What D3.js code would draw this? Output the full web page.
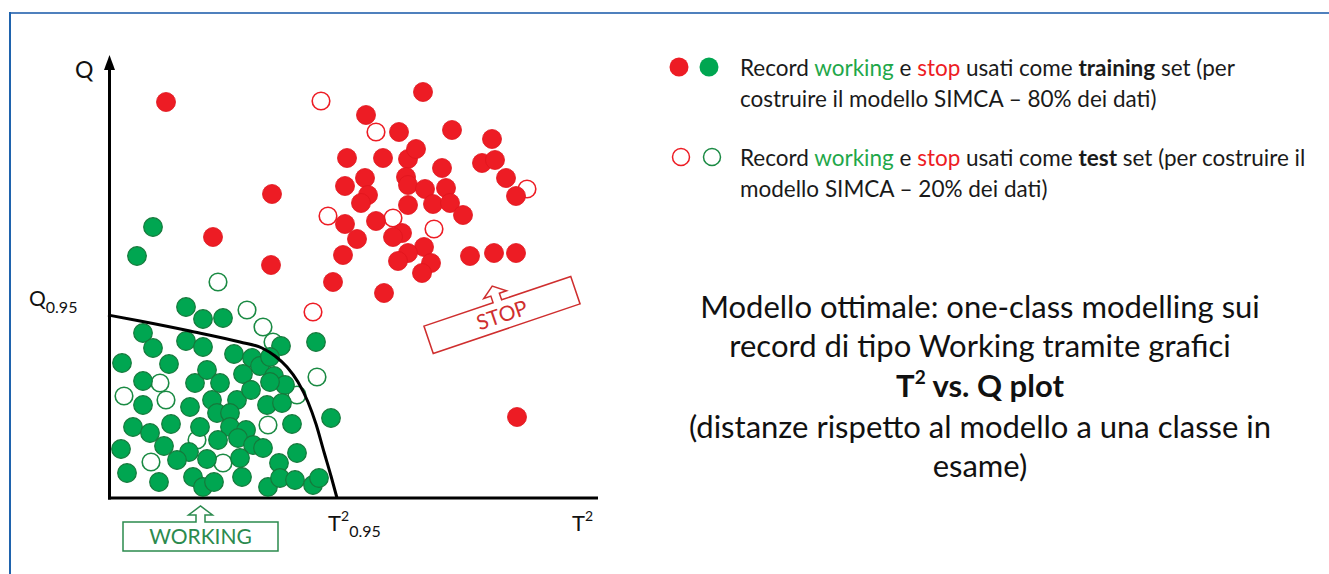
<!DOCTYPE html>
<html><head><meta charset="utf-8">
<script src="https://cdn.jsdelivr.net/npm/d3@7"></script>
<style>
body{margin:0;background:#fff}
svg{display:block}
text{font-family:Lato,"Noto Sans",sans-serif}
</style>
</head><body>
<svg id="c" width="1329" height="574"></svg>
<script>
// ---- data (T² on x, Q on y, arbitrary units) ----
const redTrain = [[11.6,79.2],[63.0,81.2],[51.6,76.6],[58.2,73.2],[68.8,73.6],[76.8,71.8],[47.8,68.0],[55.0,68.0],[60.0,67.8],[61.6,69.8],[66.8,66.0],[74.8,67.0],[77.4,67.6],[79.6,64.0],[81.6,60.4],[47.4,62.4],[51.4,64.0],[52.0,60.6],[50.6,59.0],[59.6,64.2],[60.0,62.6],[63.4,61.8],[67.6,62.0],[65.0,58.8],[68.4,59.0],[71.0,56.6],[60.0,58.6],[47.4,54.8],[53.6,55.4],[58.8,53.0],[57.0,52.2],[49.8,51.8],[47.0,48.6],[63.2,50.2],[60.0,49.0],[58.0,47.4],[64.6,47.0],[62.8,45.0],[72.4,48.4],[77.2,49.0],[81.6,49.0],[45.0,43.2],[55.2,41.0],[32.8,60.8],[21.0,52.2],[32.6,46.6],[81.8,16.2]];
const redTest = [[42.6,79.4],[53.6,73.2],[83.8,61.8],[44.0,56.4],[57.0,56.0],[65.2,53.8],[41.0,37.2]];
const greenTrain = [[9.0,54.2],[5.8,48.4],[15.6,38.2],[19.0,35.8],[23.0,36.0],[7.0,33.0],[9.0,30.0],[15.6,31.4],[19.0,30.2],[34.6,30.4],[41.6,31.2],[2.8,27.0],[12.2,26.8],[25.2,28.8],[28.8,28.0],[30.4,26.4],[32.4,28.2],[7.0,23.4],[17.4,23.0],[19.8,25.6],[22.4,23.0],[27.0,24.8],[33.2,24.4],[35.4,22.6],[32.4,23.2],[7.0,18.6],[16.4,18.2],[20.8,19.6],[25.8,19.6],[28.6,21.6],[21.8,17.0],[24.4,17.0],[31.8,18.6],[34.8,19.0],[44.6,16.0],[5.0,14.2],[8.4,13.0],[12.6,14.8],[18.4,14.2],[24.4,14.2],[27.6,13.6],[36.8,14.8],[2.6,9.8],[11.2,10.4],[16.2,9.2],[22.0,11.6],[26.0,12.0],[29.0,10.6],[31.0,10.0],[13.8,7.6],[19.8,7.8],[26.4,8.0],[37.8,9.0],[34.2,7.0],[3.8,5.0],[10.2,3.2],[17.0,4.2],[19.0,2.2],[21.2,3.2],[26.8,4.2],[32.0,2.2],[34.4,4.0],[37.4,3.6],[41.0,2.6],[42.2,4.0]];
const greenTest = [[22.0,43.2],[27.8,37.6],[31.0,34.2],[33.0,31.2],[41.8,24.2],[10.4,23.0],[3.2,20.4],[11.6,19.6],[37.8,20.6],[32.0,14.6],[17.8,11.6],[8.6,7.2],[23.0,7.0]];
const limitCurve = [[0,36.6],[6.4,35.4],[16.4,33.4],[26.4,31.2],[30.8,30.0],[33.4,28.4],[35.8,26.2],[38.0,23.2],[40.0,19.2],[41.6,14.8],[43.2,9.2],[44.6,4.4],[45.8,0]];
const q95 = 36.6, t95 = 45.8;
const axisLabels = {x: "T", xSup: "2", y: "Q"};
const tickLabels = {q: ["Q", "0.95"], t: ["T", "2", "0.95"]};
const regionLabels = {working: "WORKING", stop: "STOP"};
const legendRows = [
  [["Record ",""],["working","g"],[" e ",""],["stop","r"],[" usati come ",""],["training","b"],[" set (per",""]],
  [["costruire il modello SIMCA – 80% dei dati)",""]],
  [["Record ",""],["working","g"],[" e ",""],["stop","r"],[" usati come ",""],["test","b"],[" set (per costruire il",""]],
  [["modello SIMCA – 20% dei dati)",""]]
];
const noteLines = ["Modello ottimale: one-class modelling sui","record di tipo Working tramite grafici","T2 vs. Q plot","(distanze rispetto al modello a una classe in","esame)"];

// ---- drawing ----
const svg = d3.select("#c");
const RED = "#ed1c24", GREEN = "#00a651", GSTROKE = "#15793b";
const x = d3.scaleLinear().domain([0, 98]).range([108, 598]);
const y = d3.scaleLinear().domain([0, 88]).range([498, 58]);

// frame
svg.append("line").attr("x1",10).attr("x2",1329).attr("y1",13).attr("y2",13).attr("stroke","#4f80bd").attr("stroke-width",2);
svg.append("line").attr("x1",10).attr("x2",10).attr("y1",12).attr("y2",574).attr("stroke","#1f63ad").attr("stroke-width",2);

// axes
const ax = x(0) + 1.5;
svg.append("line").attr("x1",ax).attr("x2",ax).attr("y1",y(0)+1.5).attr("y2",y(88)+10).attr("stroke","#000").attr("stroke-width",3);
svg.append("path").attr("d",`M${ax-5.5},${y(88)+12}L${ax},${y(88)-3}L${ax+5.5},${y(88)+12}Z`).attr("fill","#000");
svg.append("line").attr("x1",x(0)).attr("x2",x(98)).attr("y1",y(0)).attr("y2",y(0)).attr("stroke","#000").attr("stroke-width",3);

// points
const g = svg.append("g");
g.selectAll(".gt").data(greenTest).join("circle").attr("cx",d=>x(d[0])).attr("cy",d=>y(d[1])).attr("r",8.8)
  .attr("fill","#fff").attr("stroke","#1a8a43").attr("stroke-width",1.6);
g.selectAll(".rt").data(redTest).join("circle").attr("cx",d=>x(d[0])).attr("cy",d=>y(d[1])).attr("r",8.8)
  .attr("fill","#fff").attr("stroke",RED).attr("stroke-width",1.6);
g.selectAll(".gf").data(greenTrain).join("circle").attr("cx",d=>x(d[0])).attr("cy",d=>y(d[1])).attr("r",9.3)
  .attr("fill",GREEN).attr("stroke",GSTROKE).attr("stroke-width",1.2);
g.selectAll(".rf").data(redTrain).join("circle").attr("cx",d=>x(d[0])).attr("cy",d=>y(d[1])).attr("r",9.5)
  .attr("fill",RED).attr("stroke","#e0151d").attr("stroke-width",0.8);

// control limit
svg.append("path").datum(limitCurve)
  .attr("d", d3.line().x(d=>x(d[0])).y(d=>y(d[1])).curve(d3.curveMonotoneX))
  .attr("fill","none").attr("stroke","#000").attr("stroke-width",3);

// axis titles
svg.append("text").attr("x",75).attr("y",78).attr("font-size",23).attr("fill","#111").text(axisLabels.y);
const tx = svg.append("text").attr("x",x(98)-26).attr("y",y(0)+33).attr("font-size",22).attr("fill","#111");
tx.append("tspan").text(axisLabels.x);
tx.append("tspan").attr("font-size",14).attr("dy",-10).text(axisLabels.xSup);

// threshold labels
const ql = svg.append("text").attr("x",29).attr("y",y(q95)-9).attr("font-size",21).attr("fill","#111");
ql.append("tspan").text(tickLabels.q[0]);
ql.append("tspan").attr("font-size",16).attr("dy",7).text(tickLabels.q[1]);
const tl = svg.append("text").attr("x",x(t95)-9).attr("y",y(0)+33).attr("font-size",22).attr("fill","#111");
tl.append("tspan").text(tickLabels.t[0]);
tl.append("tspan").attr("font-size",14).attr("dy",-10).text(tickLabels.t[1]);
tl.append("tspan").attr("font-size",16).attr("dy",16).text(tickLabels.t[2]);

// region boxes
const boxPath = "M-77.5,-14.5L-4.5,-14.5L-4.5,-21.5L-12,-21.5L0,-30.5L12,-21.5L4.5,-21.5L4.5,-14.5L77.5,-14.5L77.5,14.5L-77.5,14.5Z";
const wb = svg.append("g").attr("transform",`translate(${x(18.5)},${y(0)+38.5})`);
wb.append("path").attr("d",boxPath).attr("fill","#fff").attr("stroke","#2b8a4e").attr("stroke-width",1.5);
wb.append("text").attr("text-anchor","middle").attr("y",7.5).attr("font-size",21).attr("fill","#2b8a4e").text(regionLabels.working);
const sb = svg.append("g").attr("transform",`translate(${x(78.8)},${y(36.6)}) rotate(-18.7)`);
sb.append("path").attr("d",boxPath).attr("fill","#fff").attr("stroke","#cf2e2e").attr("stroke-width",1.5);
sb.append("text").attr("text-anchor","middle").attr("y",7.5).attr("font-size",21).attr("fill","#cf2e2e").text(regionLabels.stop);

// legend
const lg = svg.append("g");
lg.append("circle").attr("cx",679).attr("cy",67).attr("r",9.5).attr("fill",RED);
lg.append("circle").attr("cx",709).attr("cy",67).attr("r",9.5).attr("fill",GREEN);
lg.append("circle").attr("cx",681).attr("cy",157).attr("r",8.5).attr("fill","none").attr("stroke",RED).attr("stroke-width",1.5);
lg.append("circle").attr("cx",712).attr("cy",157).attr("r",8.5).attr("fill","none").attr("stroke","#1a8a43").attr("stroke-width",1.5);
const legY = [76, 107, 166, 197];
legendRows.forEach((row,i)=>{
  const t = lg.append("text").attr("x",740).attr("y",legY[i]).attr("font-size",22.5).attr("fill","#1a1a1a").attr("xml:space","preserve");
  row.forEach(([s,k])=>{
    const sp = t.append("tspan").text(s);
    if(k==="g") sp.attr("fill","#1fa84a");
    if(k==="r") sp.attr("fill",RED);
    if(k==="b") sp.attr("font-weight","bold");
  });
});

// note
const noteY = [318, 357, 397, 438, 477];
noteLines.forEach((s,i)=>{
  const t = svg.append("text").attr("x",980).attr("y",noteY[i]).attr("text-anchor","middle").attr("font-size",31).attr("fill","#111");
  if(i===2){
    t.attr("font-weight","bold");
    t.append("tspan").text("T");
    t.append("tspan").attr("font-size",19).attr("dy",-13).text("2");
    t.append("tspan").attr("dy",13).text(" vs. Q plot");
  } else t.text(s);
});
</script>
</body></html>
